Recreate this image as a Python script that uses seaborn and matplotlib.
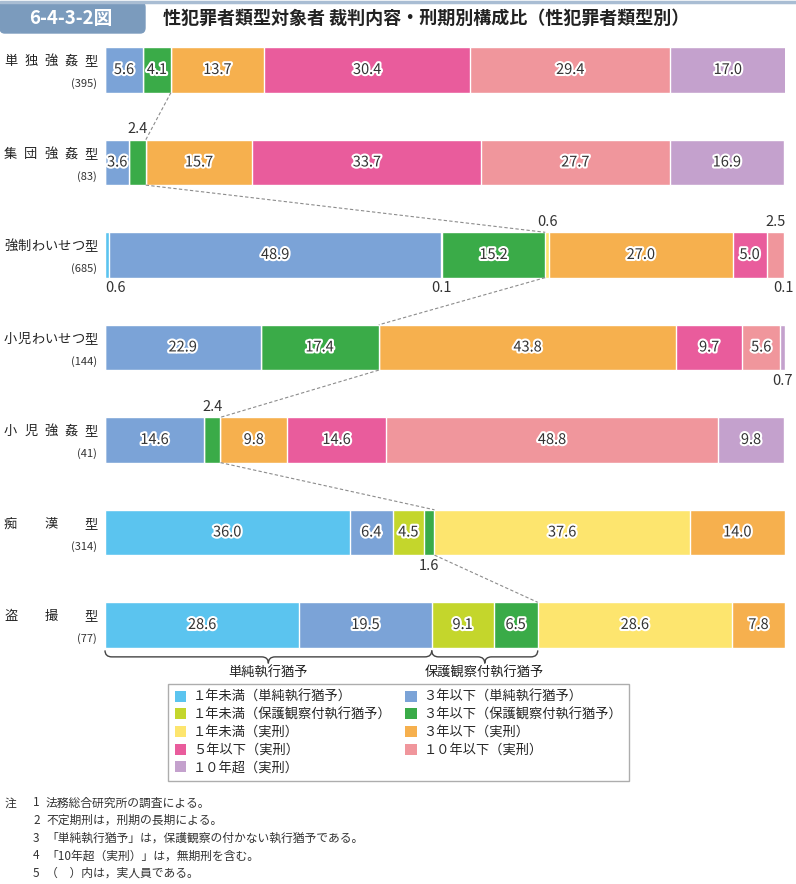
import numpy as np
import pandas as pd
import matplotlib
matplotlib.use('Agg')
import matplotlib.pyplot as plt
import matplotlib.patheffects as pe
import matplotlib.transforms as mtransforms
from matplotlib.patches import Patch, FancyBboxPatch, PathPatch
from matplotlib.path import Path
import seaborn as sns

# Data
types = ['単独強姦型', '集団強姦型', '強制わいせつ型', '小児わいせつ型', '小児強姦型', '痴漢型', '盗撮型']
counts = [395, 83, 685, 144, 41, 314, 77]
categories = ['１年未満（単純執行猶予）', '３年以下（単純執行猶予）',
              '１年未満（保護観察付執行猶予）', '３年以下（保護観察付執行猶予）',
              '１年未満（実刑）', '３年以下（実刑）', '５年以下（実刑）',
              '１０年以下（実刑）', '１０年超（実刑）']
tan_under1 = [0.0, 0.0, 0.6, 0.0, 0.0, 36.0, 28.6]
tan_under3 = [5.6, 3.6, 48.9, 22.9, 14.6, 6.4, 19.5]
hogo_under1 = [0.0, 0.0, 0.1, 0.0, 0.0, 4.5, 9.1]
hogo_under3 = [4.1, 2.4, 15.2, 17.4, 2.4, 1.6, 6.5]
jitsu_under1 = [0.0, 0.0, 0.6, 0.0, 0.0, 37.6, 28.6]
jitsu_under3 = [13.7, 15.7, 27.0, 43.8, 9.8, 14.0, 7.8]
jitsu_under5 = [30.4, 33.7, 5.0, 9.7, 14.6, 0.0, 0.0]
jitsu_under10 = [29.4, 27.7, 2.5, 5.6, 48.8, 0.0, 0.0]
jitsu_over10 = [17.0, 16.9, 0.1, 0.7, 9.8, 0.0, 0.0]

colors = ['#5bc4ef', '#7ba3d7', '#c4d62c', '#3aab48', '#fde56e',
          '#f6b04e', '#e95c9c', '#f0969c', '#c4a1cd']

df = pd.DataFrame(
    np.array([tan_under1, tan_under3, hogo_under1, hogo_under3, jitsu_under1,
              jitsu_under3, jitsu_under5, jitsu_under10, jitsu_over10]).T,
    index=types, columns=categories)

# small segments labelled outside the bar
outside = {(1, 3): 'above', (2, 0): 'below', (2, 2): 'below', (2, 4): 'above',
           (2, 7): 'above', (2, 8): 'below', (3, 8): 'below', (4, 3): 'above',
           (5, 3): 'below'}

sns.set_style('white')
plt.rcParams['font.family'] = ['Noto Sans CJK JP', 'DejaVu Sans']

fig = plt.figure(figsize=(7.96, 8.84), dpi=100)
ax = fig.add_axes([105 / 796, 1 - 680 / 884, 680 / 796, 650 / 884])

bar_h = 0.49
cum = df.cumsum(axis=1)
# stacked bars: draw cumulative totals from the last category backwards
for k in range(len(categories) - 1, -1, -1):
    sns.barplot(x=cum.iloc[:, k].values, y=types, orient='h', color=colors[k],
                width=bar_h, edgecolor='white', linewidth=1, saturation=1, ax=ax)

ax.set_xlim(0, 100.1)
ax.set_ylim(6.595, -0.432)
ax.axis('off')

stroke = [pe.withStroke(linewidth=3, foreground='white')]
for i, t in enumerate(types):
    left = 0
    for k, c in enumerate(categories):
        v = df.loc[t, c]
        if v > 0:
            xc = left + v / 2
            side = outside.get((i, k))
            if side is None:
                ax.text(xc, i, f'{v:.1f}', ha='center', va='center', fontsize=10.5,
                        color='#333333', path_effects=stroke)
            elif side == 'above':
                ax.text(xc, i - bar_h / 2 - 0.04, f'{v:.1f}', ha='center', va='bottom',
                        fontsize=10.5, color='#333333')
            else:
                ax.text(max(xc, 1.6), i + bar_h / 2 + 0.04, f'{v:.1f}', ha='center', va='top',
                        fontsize=10.5, color='#333333')
        left += v

# dashed connectors at the end of the suspended-sentence part
susp = df.iloc[:, :4].sum(axis=1).values
for i in range(len(types) - 1):
    ax.plot([susp[i], susp[i + 1]], [i + bar_h / 2, i + 1 - bar_h / 2],
            ls=(0, (3, 2)), color='#8c8c8c', lw=0.8)

# braces under the last bar
def brace(x0, x1, y0, label):
    ym, y1, r = y0 + 0.07, y0 + 0.14, 1.0
    xm = (x0 + x1) / 2
    verts = [(x0, y0), (x0, ym), (x0 + r, ym), (xm - r, ym), (xm, ym), (xm, y1),
             (xm, ym), (xm + r, ym), (x1 - r, ym), (x1, ym), (x1, y0)]
    codes = [Path.MOVETO, Path.CURVE3, Path.CURVE3, Path.LINETO, Path.CURVE3, Path.CURVE3,
             Path.CURVE3, Path.CURVE3, Path.LINETO, Path.CURVE3, Path.CURVE3]
    ax.add_patch(PathPatch(Path(verts, codes), fill=False, lw=1, ec='#444444', clip_on=False))
    ax.text(xm, y1 + 0.03, label, ha='center', va='top', fontsize=9.5, color='#222222')

last = len(types) - 1
tan_end = tan_under1[last] + tan_under3[last]
hogo_end = tan_end + hogo_under1[last] + hogo_under3[last]
brace(0, tan_end, last + bar_h / 2 + 0.03, '単純執行猶予')
brace(tan_end, hogo_end, last + bar_h / 2 + 0.03, '保護観察付執行猶予')

# category labels, justified to a common width
trans = mtransforms.blended_transform_factory(fig.transFigure, ax.transData)
cw = 13.4
for i, t in enumerate(types):
    n = len(t)
    for j, ch in enumerate(t):
        xp = 4 + cw / 2 + (94 - cw) * j / (n - 1)
        ax.text(xp / 796, i - 0.09, ch, ha='center', va='center', fontsize=9.5,
                color='#222222', transform=trans)
    ax.text(97 / 796, i + 0.15, f'({counts[i]})', ha='right', va='center', fontsize=8,
            color='#333333', transform=trans)

# title banner
fig.add_artist(plt.Line2D([0, 1], [1 - 2 / 884, 1 - 2 / 884], color='#a9bdd3', lw=2.5,
                          transform=fig.transFigure))
fig.add_artist(FancyBboxPatch((0, 1 - 33 / 884), 145 / 796, 31 / 884,
                              boxstyle='round,pad=0,rounding_size=0.006', color='#7b9bbd',
                              transform=fig.transFigure))
fig.text(71 / 796, 1 - 18 / 884, '6-4-3-2図', ha='center', va='center', fontsize=13.5,
         fontweight='bold', color='white')
fig.text(163 / 796, 1 - 18 / 884, '性犯罪者類型対象者 裁判内容・刑期別構成比（性犯罪者類型別）',
         ha='left', va='center', fontsize=13, fontweight='bold', color='#222222')

# legend: two columns
order = [0, 2, 4, 6, 8, 1, 3, 5, 7]
handles = [Patch(facecolor=colors[k], edgecolor='none', label=categories[k]) for k in order]
fig.legend(handles=handles, loc='upper left', bbox_to_anchor=(168 / 796, 1 - 684 / 884),
           ncol=2, fontsize=9.5, frameon=True, fancybox=False, edgecolor='#999999',
           handlelength=0.9, handleheight=0.9, handletextpad=0.5, labelspacing=0.35,
           columnspacing=1.0, borderpad=0.5, borderaxespad=0)

# notes
notes = ['法務総合研究所の調査による。', '不定期刑は，刑期の長期による。',
         '「単純執行猶予」は，保護観察の付かない執行猶予である。',
         '「10年超（実刑）」は，無期刑を含む。', '（　）内は，実人員である。']
fig.text(5 / 796, 1 - 803 / 884, '注', fontsize=8.5, va='center', color='#333333')
for n, s in enumerate(notes):
    y = 1 - (803 + 17.6 * n) / 884
    fig.text(33 / 796, y, str(n + 1), fontsize=8.5, va='center', color='#333333')
    fig.text(46 / 796, y, s, fontsize=8.5, va='center', color='#333333')

fig.savefig('out.png', dpi=100)
